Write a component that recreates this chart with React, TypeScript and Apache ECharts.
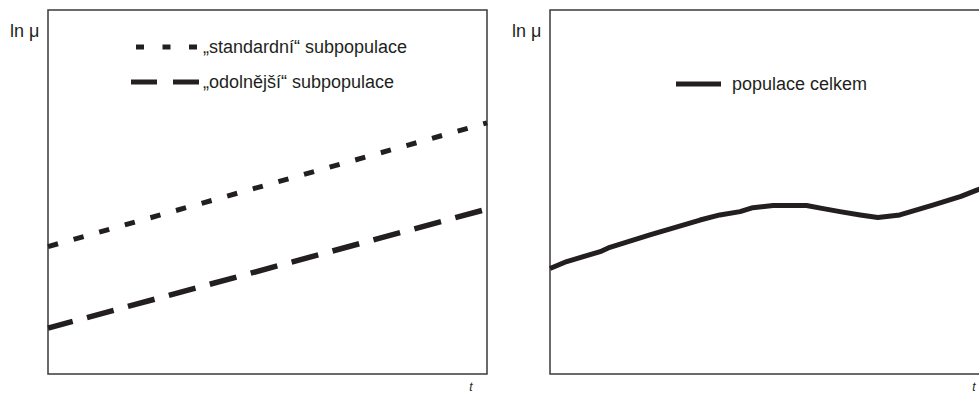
import React, { useEffect, useRef } from "react";
import * as echarts from "echarts";

// Left panel: time (arbitrary units) and ln μ of two subpopulations
const tLeft = [0, 100];
const standardValues = [35.0, 69.0];
const resistantValues = [12.6, 45.3];

// Right panel: ln μ of the whole population
const tRight = [0, 3.8, 11.4, 13.6, 22.7, 34.1, 38.6, 43.2, 46.1, 50.7, 58.3, 61.8, 65.9, 70.5, 74.5, 79.5, 87.0, 93.4, 97.0, 100];
const totalValues = [29.0, 30.9, 33.6, 34.8, 38.2, 42.3, 43.7, 44.6, 45.7, 46.3, 46.3, 45.5, 44.6, 43.7, 43.0, 43.7, 46.4, 48.8, 50.5, 51.8];

const legendLeft = ["„standardní“ subpopulace", "„odolnější“ subpopulace"];
const legendRight = ["populace celkem"];
const yAxisName = "ln μ";
const xAxisName = "t";

const INK = "#231f20";
const FONT = "'Liberation Sans', Arial, Helvetica, sans-serif";

export default function App() {
  const ref = useRef<HTMLDivElement>(null);

  useEffect(() => {
    if (!ref.current) return;
    const chart = echarts.init(ref.current, null, { renderer: "svg" });
    const zip = (xs: number[], ys: number[]) => xs.map((x, i) => [x, ys[i]]);

    const gridStyle = {
      show: true,
      borderColor: "#3a3a3a",
      borderWidth: 1.5,
      backgroundColor: "transparent",
    };
    const axisX = (gi: number) => ({
      type: "value" as const,
      gridIndex: gi,
      min: 0,
      max: 100,
      show: false,
    });
    const axisY = (gi: number) => ({
      type: "value" as const,
      gridIndex: gi,
      min: 0,
      max: 100,
      show: false,
    });

    const txt = (x: number, y: number, text: string, size: number, extra: any = {}) => ({
      type: "text",
      x,
      y,
      style: {
        text,
        fill: INK,
        font: `${extra.italic ? "italic " : ""}${size}px ${FONT}`,
        textVerticalAlign: "middle",
        textAlign: extra.align || "left",
      },
    });
    const seg = (x1: number, x2: number, y: number, dash: number[] | null) => ({
      type: "line",
      shape: { x1, y1: y, x2, y2: y },
      style: { stroke: INK, lineWidth: 5, lineDash: dash || undefined, lineCap: "butt" },
    });

    chart.setOption({
      animation: false,
      grid: [
        { ...gridStyle, left: 48, top: 10, width: 439, height: 364 },
        { ...gridStyle, left: 550, top: 10, width: 440, height: 364 },
      ],
      xAxis: [axisX(0), axisX(1)],
      yAxis: [axisY(0), axisY(1)],
      series: [
        {
          name: legendLeft[0],
          type: "line",
          xAxisIndex: 0,
          yAxisIndex: 0,
          data: zip(tLeft, standardValues),
          symbol: "none",
          lineStyle: { color: INK, width: 5, type: [10.4, 16.2], cap: "butt" },
        },
        {
          name: legendLeft[1],
          type: "line",
          xAxisIndex: 0,
          yAxisIndex: 0,
          data: zip(tLeft, resistantValues),
          symbol: "none",
          lineStyle: { color: INK, width: 5.5, type: [27.6, 14.8], dashOffset: 1.5, cap: "butt" },
        },
        {
          name: legendRight[0],
          type: "line",
          xAxisIndex: 1,
          yAxisIndex: 1,
          data: zip(tRight, totalValues),
          symbol: "none",
          lineStyle: { color: INK, width: 5, join: "round" },
        },
      ],
      graphic: [
        txt(10, 31, yAxisName, 18),
        txt(512, 31, yAxisName, 18),
        txt(471, 386.5, xAxisName, 12, { italic: true, align: "center" }),
        txt(974, 386.5, xAxisName, 12, { italic: true, align: "center" }),
        seg(136, 197, 47, [8, 18.5]),
        txt(203, 47, legendLeft[0], 18),
        seg(131, 199, 82, [26, 16]),
        txt(203, 82, legendLeft[1], 18),
        seg(676, 721, 84, null),
        txt(732, 84, legendRight[0], 18),
      ],
    });
    return () => chart.dispose();
  }, []);

  return (
    <div
      style={{
        position: "fixed",
        left: 0,
        top: 0,
        width: 979,
        height: 394,
        overflow: "hidden",
        background: "#fff",
      }}
    >
      <div ref={ref} style={{ width: 1000, height: 394 }} />
    </div>
  );
}
